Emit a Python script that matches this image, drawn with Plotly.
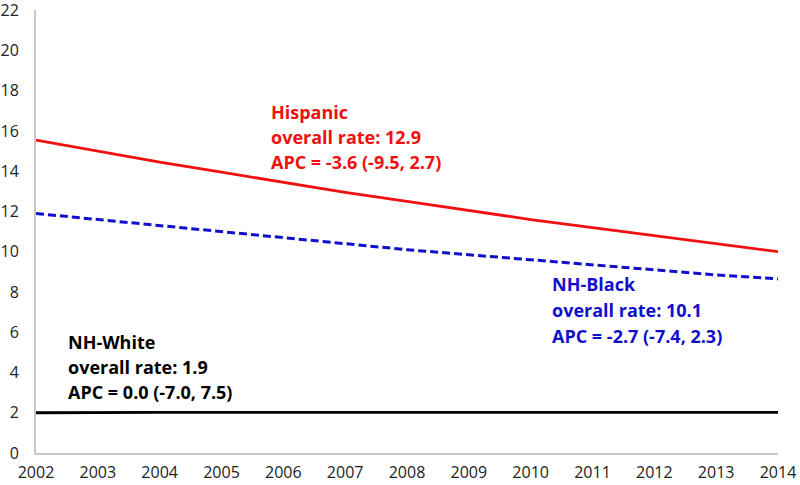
import plotly.graph_objects as go

years = list(range(2002, 2015))
hispanic = [15.55, 15.0, 14.45, 13.95, 13.45, 12.95, 12.5, 12.05, 11.6, 11.2, 10.8, 10.4, 10.0]
nh_black = [11.9, 11.6, 11.3, 11.0, 10.7, 10.4, 10.1, 9.85, 9.6, 9.35, 9.1, 8.85, 8.65]
nh_white = [2.0, 2.02, 2.02, 2.02, 2.02, 2.02, 2.02, 2.02, 2.02, 2.02, 2.02, 2.02, 2.02]
y_ticks = list(range(0, 23, 2))

RED = "#F01010"
BLUE = "#1010CC"
BLACK = "#000000"

fig = go.Figure()
fig.add_trace(go.Scatter(x=years, y=hispanic, mode="lines", line=dict(color=RED, width=2.8), name="Hispanic"))
fig.add_trace(go.Scatter(x=years, y=nh_black, mode="lines", line=dict(color=BLUE, width=3, dash="8px,4px"), name="NH-Black"))
fig.add_trace(go.Scatter(x=years, y=nh_white, mode="lines", line=dict(color=BLACK, width=2.8), name="NH-White"))

labels = [
    (2005.77, [16.93, 15.69, 14.45], ["Hispanic", "overall rate: 12.9", "APC = -3.6 (-9.5, 2.7)"], RED),
    (2010.31, [8.39, 7.10, 5.81], ["NH-Black", "overall rate: 10.1", "APC = -2.7 (-7.4, 2.3)"], BLUE),
    (2002.48, [5.51, 4.27, 3.03], ["NH-White", "overall rate: 1.9", "APC = 0.0 (-7.0, 7.5)"], BLACK),
]
for x, ys, texts, col in labels:
    for y, t in zip(ys, texts):
        fig.add_annotation(x=x, y=y, xref="x", yref="y", text="<b>%s</b>" % t, showarrow=False,
                           xanchor="left", yanchor="middle",
                           font=dict(family="Open Sans", size=18, color=col))

fig.update_layout(
    width=800, height=485,
    margin=dict(l=36, r=22, t=10, b=32),
    paper_bgcolor="white", plot_bgcolor="white",
    showlegend=False,
    font=dict(family="Open Sans", size=16, color="#222222"),
)
fig.update_xaxes(range=[2002, 2014], tickvals=years, ticktext=[str(y) for y in years],
                 showgrid=False, zeroline=False, showline=True, linecolor="#C8C8C8", linewidth=2,
                 ticks="", tickfont=dict(size=16), automargin=False, ticklabelstandoff=4)
fig.update_yaxes(range=[0, 22.01], tickvals=y_ticks, showgrid=False, zeroline=False,
                 showline=True, linecolor="#C8C8C8", linewidth=2, ticks="", tickfont=dict(size=16),
                 automargin=False, ticklabelstandoff=12, ticklabeloverflow="allow")

fig.write_html("out.html", config={"displayModeBar": False},
               post_script="document.body.style.margin='0';")
